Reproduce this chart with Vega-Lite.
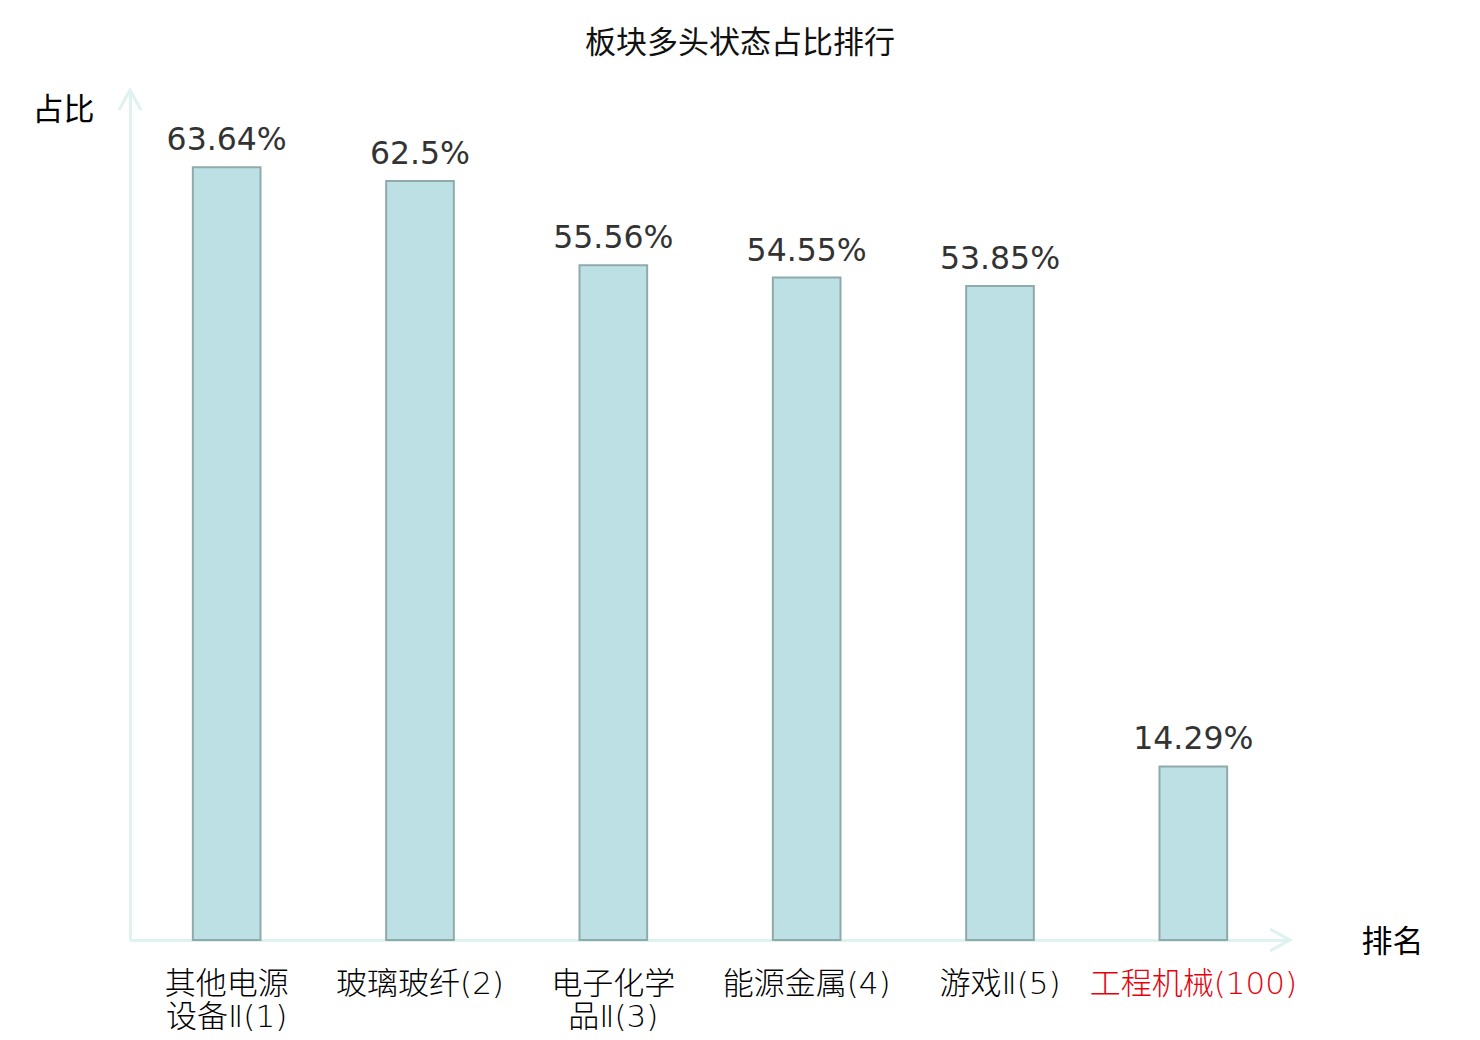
{
  "$schema": "https://vega.github.io/schema/vega-lite/v6.json",
  "width": 1160,
  "height": 850,
  "autosize": {"type": "none"},
  "padding": {"left": 130, "top": 90, "right": 190, "bottom": 100},
  "background": "white",
  "title": {
    "text": "板块多头状态占比排行",
    "font": "Noto Sans CJK SC",
    "fontSize": 31,
    "fontWeight": "normal",
    "color": "#111111",
    "anchor": "middle",
    "dx": 30,
    "offset": 24
  },
  "datasets": {
    "sectors": [
      {"name": "其他电源\n设备Ⅱ(1)", "value": 63.64},
      {"name": "玻璃玻纤(2)", "value": 62.5},
      {"name": "电子化学\n品Ⅱ(3)", "value": 55.56},
      {"name": "能源金属(4)", "value": 54.55},
      {"name": "游戏Ⅱ(5)", "value": 53.85},
      {"name": "工程机械(100)", "value": 14.29}
    ],
    "arrows": [
      {"pos": 1, "value": 0, "axis": "x"},
      {"pos": 0, "value": 70, "axis": "y"}
    ]
  },
  "layer": [
    {
      "data": {"name": "sectors"},
      "encoding": {
        "x": {
          "field": "name",
          "type": "nominal",
          "sort": null,
          "scale": {"paddingInner": 0.65, "paddingOuter": 0.325},
          "axis": {
            "title": "排名",
            "titleFont": "Noto Sans CJK SC",
            "titleFontSize": 31,
            "titleFontWeight": "normal",
            "titleColor": "#000000",
            "titleX": 1262,
            "titleY": 2,
            "titleAlign": "center",
            "titleBaseline": "middle",
            "titleAngle": 0,
            "labelExpr": "split(datum.label, '\\n')",
            "labelAngle": 0,
            "labelLimit": 0,
            "labelFont": "DejaVu Sans, Noto Sans CJK SC",
            "labelFontSize": 31,
            "labelFontWeight": 200,
            "labelLineHeight": 33,
            "labelPadding": 29,
            "labelColor": {"condition": {"test": "datum.value == '工程机械(100)'", "value": "#e8000b"}, "value": "#000000"},
            "ticks": false,
            "domainColor": "#def2ef",
            "domainWidth": 3,
            "grid": false
          }
        },
        "y": {
          "field": "value",
          "type": "quantitative",
          "scale": {"domain": [0, 70]},
          "axis": {
            "title": "占比",
            "titleFont": "Noto Sans CJK SC",
            "titleFontSize": 31,
            "titleFontWeight": "normal",
            "titleColor": "#000000",
            "titleX": -67,
            "titleY": 20,
            "titleAlign": "center",
            "titleBaseline": "middle",
            "titleAngle": 0,
            "labels": false,
            "ticks": false,
            "grid": false,
            "domainColor": "#def2ef",
            "domainWidth": 3
          }
        }
      },
      "layer": [
        {
          "mark": {"type": "bar", "fill": "#bce0e3", "stroke": "#8eaaaa", "strokeWidth": 2}
        },
        {
          "transform": [{"calculate": "format(datum.value, '.2~f') + '%'", "as": "label"}],
          "mark": {"type": "text", "font": "DejaVu Sans", "fontSize": 31.5, "color": "#333333", "baseline": "alphabetic", "dy": -17},
          "encoding": {
            "text": {"field": "label"}
          }
        }
      ]
    },
    {
      "data": {"name": "arrows"},
      "encoding": {
        "x": {"field": "pos", "type": "quantitative", "scale": {"domain": [0, 1]}, "axis": null},
        "y": {"field": "value", "type": "quantitative"}
      },
      "layer": [
        {
          "transform": [{"filter": "datum.axis == 'x'"}],
          "mark": {"type": "point", "shape": "M-2,-1.1L0,0L-2,1.1", "size": 400, "filled": false, "stroke": "#def2ef", "strokeWidth": 3, "opacity": 1}
        },
        {
          "transform": [{"filter": "datum.axis == 'y'"}],
          "mark": {"type": "point", "shape": "M-1.1,2L0,0L1.1,2", "size": 400, "filled": false, "stroke": "#def2ef", "strokeWidth": 3, "opacity": 1}
        }
      ]
    }
  ],
  "resolve": {"scale": {"x": "independent"}},
  "config": {"view": {"stroke": null}}
}
